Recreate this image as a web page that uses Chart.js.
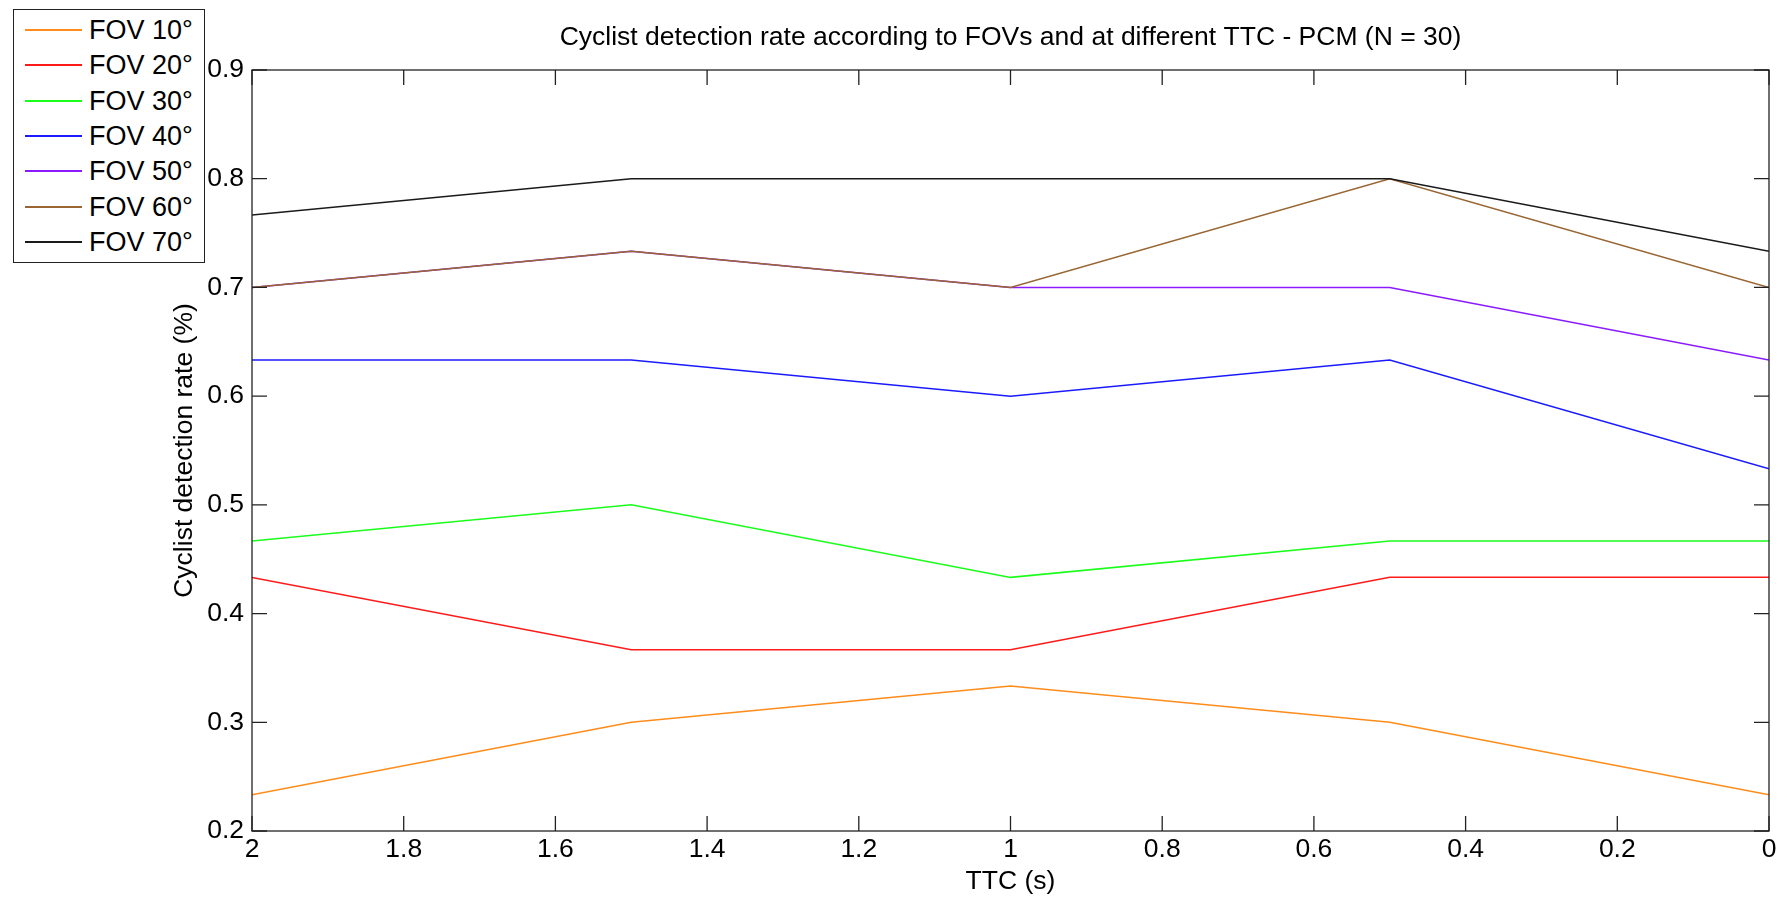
<!DOCTYPE html>
<html>
<head>
<meta charset="utf-8">
<script src="https://cdn.jsdelivr.net/npm/chart.js@4/dist/chart.umd.min.js"></script>
<style>
  body { margin: 0; background: #fff; }
  #wrap { position: relative; width: 1787px; height: 898px; }
  #legend {
    position: absolute; left: 13px; top: 9px; width: 190px; height: 252px;
    border: 1px solid #222; background: #fff;
    font-family: "Liberation Sans", Arial, sans-serif; font-size: 27px; color: #000;
  }
  .row { position: absolute; left: 0; height: 30px; width: 100%; }
  .row .swatch { position: absolute; left: 11px; top: 14px; width: 57px; height: 2px; }
  .row .txt { position: absolute; left: 75px; top: 0; line-height: 30px; white-space: nowrap; }
</style>
</head>
<body>
<div id="wrap">
  <canvas id="chart" width="1787" height="898"></canvas>
  <div id="legend"></div>
</div>
<script>
// TTC values (s) on the x axis
const ttc = [2, 1.5, 1, 0.5, 0];

// detection rate per FOV (N = 30)
const fov10 = [0.2333, 0.3000, 0.3333, 0.3000, 0.2333];
const fov20 = [0.4333, 0.3667, 0.3667, 0.4333, 0.4333];
const fov30 = [0.4667, 0.5000, 0.4333, 0.4667, 0.4667];
const fov40 = [0.6333, 0.6333, 0.6000, 0.6333, 0.5333];
const fov50 = [0.7000, 0.7333, 0.7000, 0.7000, 0.6333];
const fov60 = [0.7000, 0.7333, 0.7000, 0.8000, 0.7000];
const fov70 = [0.7667, 0.8000, 0.8000, 0.8000, 0.7333];

const labels = ['FOV 10°', 'FOV 20°', 'FOV 30°', 'FOV 40°', 'FOV 50°', 'FOV 60°', 'FOV 70°'];
const colors = ['#ff8c1a', '#ff1a1a', '#1aff1a', '#1a1aff', '#8a1aff', '#996633', '#1a1a1a'];
const series = [fov10, fov20, fov30, fov40, fov50, fov60, fov70];

const FONT = '"Liberation Sans", Arial, sans-serif';
const FS = 26.5;

// axis box + inward tick marks, like the original figure
const boxTicks = {
  id: 'boxTicks',
  afterDraw(chart) {
    const { ctx, chartArea: a, scales } = chart;
    const len = 15;
    ctx.save();
    ctx.strokeStyle = '#222';
    ctx.lineWidth = 1.3;
    ctx.beginPath();
    scales.x.ticks.forEach(t => {
      const px = scales.x.getPixelForValue(t.value);
      ctx.moveTo(px, a.bottom); ctx.lineTo(px, a.bottom - len);
      ctx.moveTo(px, a.top); ctx.lineTo(px, a.top + len);
    });
    scales.y.ticks.forEach(t => {
      const py = scales.y.getPixelForValue(t.value);
      ctx.moveTo(a.left, py); ctx.lineTo(a.left + len, py);
      ctx.moveTo(a.right, py); ctx.lineTo(a.right - len, py);
    });
    ctx.stroke();
    ctx.strokeRect(a.left, a.top, a.right - a.left, a.bottom - a.top);
    ctx.restore();
  }
};

const fmt = v => String(Number(v.toFixed(1)));

const chart = new Chart(document.getElementById('chart'), {
  type: 'line',
  data: {
    datasets: series.map((s, i) => ({
      label: labels[i],
      data: s.map((v, j) => ({ x: ttc[j], y: v })),
      borderColor: colors[i],
      backgroundColor: colors[i],
      borderWidth: 1.5,
      pointRadius: 0,
      tension: 0,
      order: series.length - i
    }))
  },
  options: {
    responsive: false,
    animation: false,
    layout: { padding: { left: 0, right: 18, top: 0, bottom: 0 } },
    plugins: {
      legend: { display: false },
      tooltip: { enabled: false },
      title: {
        display: true,
        text: 'Cyclist detection rate according to FOVs and at different TTC - PCM (N = 30)',
        color: '#000',
        font: { family: FONT, size: FS, weight: 'normal' },
        padding: { top: 22, bottom: 16.2 },
        fullSize: false
      }
    },
    scales: {
      x: {
        type: 'linear',
        reverse: true,
        min: 0, max: 2,
        grid: { display: false, drawTicks: false },
        border: { display: false },
        ticks: { stepSize: 0.2, padding: 3, color: '#000', font: { family: FONT, size: FS }, callback: fmt },
        title: { display: true, text: 'TTC (s)', color: '#000', font: { family: FONT, size: FS }, padding: { top: 0, bottom: 0 } },
        afterFit(scale) { scale.height = 67; }
      },
      y: {
        min: 0.2, max: 0.9,
        grid: { display: false, drawTicks: false },
        border: { display: false },
        ticks: { stepSize: 0.1, padding: 8, color: '#000', font: { family: FONT, size: FS }, callback: fmt },
        title: { display: true, text: 'Cyclist detection rate (%)', color: '#000', font: { family: FONT, size: FS }, padding: { top: 169, bottom: 0 } },
        afterFit(scale) { scale.width = 252; }
      }
    }
  },
  plugins: [boxTicks]
});

// legend box in the top-left corner
const legend = document.getElementById('legend');
chart.data.datasets.forEach((ds, i) => {
  const row = document.createElement('div');
  row.className = 'row';
  row.style.top = (30 + i * 35.33 - 9 - 1 - 15) + 'px';
  row.innerHTML = '<span class="swatch" style="background:' + ds.borderColor + '"></span><span class="txt">' + ds.label + '</span>';
  legend.appendChild(row);
});
</script>
</body>
</html>
